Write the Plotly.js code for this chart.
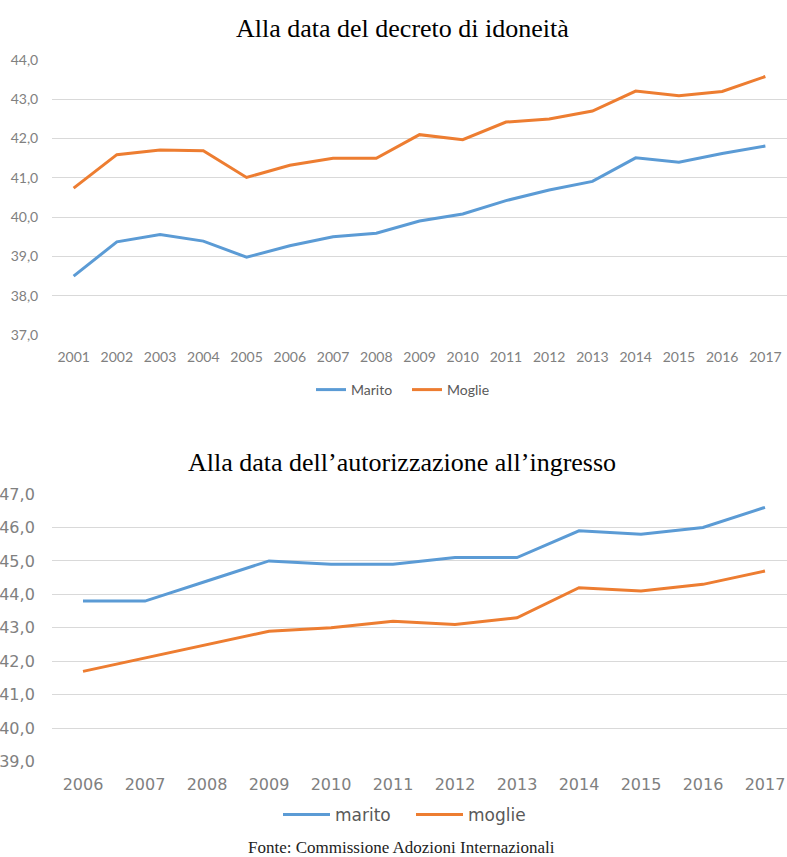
<!DOCTYPE html>
<html>
<head>
<meta charset="utf-8">
<script src="https://cdn.plot.ly/plotly-3.0.1.min.js"></script>
<style>html,body{margin:0;padding:0;background:#fff;}#chart{width:787px;height:857px;}</style>
</head>
<body>
<div id="chart"></div>
<script>
// ---- Data: top chart (Alla data del decreto di idoneità)
const years1 = ['2001','2002','2003','2004','2005','2006','2007','2008','2009','2010','2011','2012','2013','2014','2015','2016','2017'];
const marito1 = [38.5, 39.37, 39.56, 39.39, 38.98, 39.27, 39.5, 39.59, 39.9, 40.08, 40.42, 40.69, 40.91, 41.51, 41.4, 41.62, 41.81];
const moglie1 = [40.74, 41.59, 41.71, 41.69, 41.01, 41.32, 41.5, 41.5, 42.1, 41.97, 42.42, 42.5, 42.7, 43.21, 43.09, 43.2, 43.58];

// ---- Data: bottom chart (Alla data dell'autorizzazione all'ingresso)
const years2 = ['2006','2007','2008','2009','2010','2011','2012','2013','2014','2015','2016','2017'];
const marito2 = [43.8, 43.8, 44.4, 45.0, 44.9, 44.9, 45.1, 45.1, 45.9, 45.8, 46.0, 46.6];
const moglie2 = [41.7, 42.1, 42.5, 42.9, 43.0, 43.2, 43.1, 43.3, 44.2, 44.1, 44.3, 44.7];

const yTicks1 = [37, 38, 39, 40, 41, 42, 43, 44];
const yTicks2 = [39, 40, 41, 42, 43, 44, 45, 46, 47];

const BLUE = '#5B9BD5';
const ORANGE = '#ED7D31';
const GRID = '#d9d9d9';
const TICK = '#808080';

const H = 857, W = 787, L = 52;
const py = p => 1 - p / H;            // pixel y -> paper y
const px = p => (p - L) / (W - L);     // pixel x -> paper x

const traces = [
  {x: years1, y: marito1, name: 'Marito', type: 'scatter', mode: 'lines', xaxis: 'x', yaxis: 'y',
   line: {color: BLUE, width: 3}, legend: 'legend'},
  {x: years1, y: moglie1, name: 'Moglie', type: 'scatter', mode: 'lines', xaxis: 'x', yaxis: 'y',
   line: {color: ORANGE, width: 3}, legend: 'legend'},
  {x: years2, y: marito2, name: 'marito', type: 'scatter', mode: 'lines', xaxis: 'x2', yaxis: 'y2',
   line: {color: BLUE, width: 3}, legend: 'legend2'},
  {x: years2, y: moglie2, name: 'moglie', type: 'scatter', mode: 'lines', xaxis: 'x2', yaxis: 'y2',
   line: {color: ORANGE, width: 3}, legend: 'legend2'}
];

const topFont = {family: 'Lato, "Open Sans", sans-serif', size: 14, color: TICK};
const botFont = {family: '"DejaVu Sans", Verdana, sans-serif', size: 16, color: TICK};

const layout = {
  width: W, height: H,
  margin: {l: L, r: 0, t: 0, b: 0, pad: 0},
  paper_bgcolor: '#ffffff', plot_bgcolor: '#ffffff',
  separators: ',.',
  hovermode: false,
  showlegend: true,
  xaxis: {
    type: 'category', domain: [0, 1], anchor: 'y', range: [-0.5, 16.5],
    showgrid: false, zeroline: false, showline: false,
    ticks: 'outside', ticklen: 9, tickcolor: 'rgba(0,0,0,0)',
    tickfont: topFont, fixedrange: true
  },
  yaxis: {
    domain: [py(335), py(60)], anchor: 'x', range: [37, 44],
    tickvals: yTicks1, tickformat: '.1f',
    showgrid: true, gridcolor: GRID, gridwidth: 1, zeroline: false, showline: false,
    ticks: 'outside', ticklen: 10, tickcolor: 'rgba(0,0,0,0)',
    tickfont: topFont, fixedrange: true
  },
  xaxis2: {
    type: 'category', domain: [0, 1], anchor: 'y2', range: [-0.5, 11.355],
    showgrid: false, zeroline: false, showline: false,
    ticks: 'outside', ticklen: 8, tickcolor: 'rgba(0,0,0,0)',
    tickfont: botFont, fixedrange: true
  },
  yaxis2: {
    domain: [py(761.7), py(494)], anchor: 'x2', range: [39, 47],
    tickvals: yTicks2, tickformat: '.1f',
    showgrid: true, gridcolor: GRID, gridwidth: 1, zeroline: false, showline: false,
    ticks: 'outside', ticklen: 13, tickcolor: 'rgba(0,0,0,0)',
    tickfont: botFont, fixedrange: true
  },
  legend: {
    orientation: 'h', x: px(311), xanchor: 'left', y: py(390), yanchor: 'middle',
    font: {family: 'Lato, "Open Sans", sans-serif', size: 14, color: '#595959'},
    bgcolor: 'rgba(0,0,0,0)', itemwidth: 30, entrywidth: 51, entrywidthmode: 'pixels', tracegroupgap: 0
  },
  legend2: {
    orientation: 'h', x: px(278), xanchor: 'left', y: py(815), yanchor: 'middle',
    font: {family: '"DejaVu Sans", Verdana, sans-serif', size: 17, color: '#595959'},
    bgcolor: 'rgba(0,0,0,0)', itemwidth: 47, entrywidth: 71, entrywidthmode: 'pixels', tracegroupgap: 0
  },
  annotations: [
    {text: 'Alla data del decreto di idoneità', xref: 'paper', yref: 'paper',
     x: px(402), y: py(28), xanchor: 'center', yanchor: 'middle', showarrow: false,
     font: {family: '"Liberation Serif", "Times New Roman", serif', size: 26, color: '#000000'}},
    {text: 'Alla data dell\u2019autorizzazione all\u2019ingresso', xref: 'paper', yref: 'paper',
     x: px(402), y: py(463), xanchor: 'center', yanchor: 'middle', showarrow: false,
     font: {family: '"Liberation Serif", "Times New Roman", serif', size: 26, color: '#000000'}},
    {text: 'Fonte: Commissione Adozioni Internazionali', xref: 'paper', yref: 'paper',
     x: px(401), y: py(847), xanchor: 'center', yanchor: 'middle', showarrow: false,
     font: {family: '"Liberation Serif", "Times New Roman", serif', size: 17, color: '#222222'}}
  ]
};

Plotly.newPlot('chart', traces, layout, {staticPlot: true, displayModeBar: false});
</script>
</body>
</html>
